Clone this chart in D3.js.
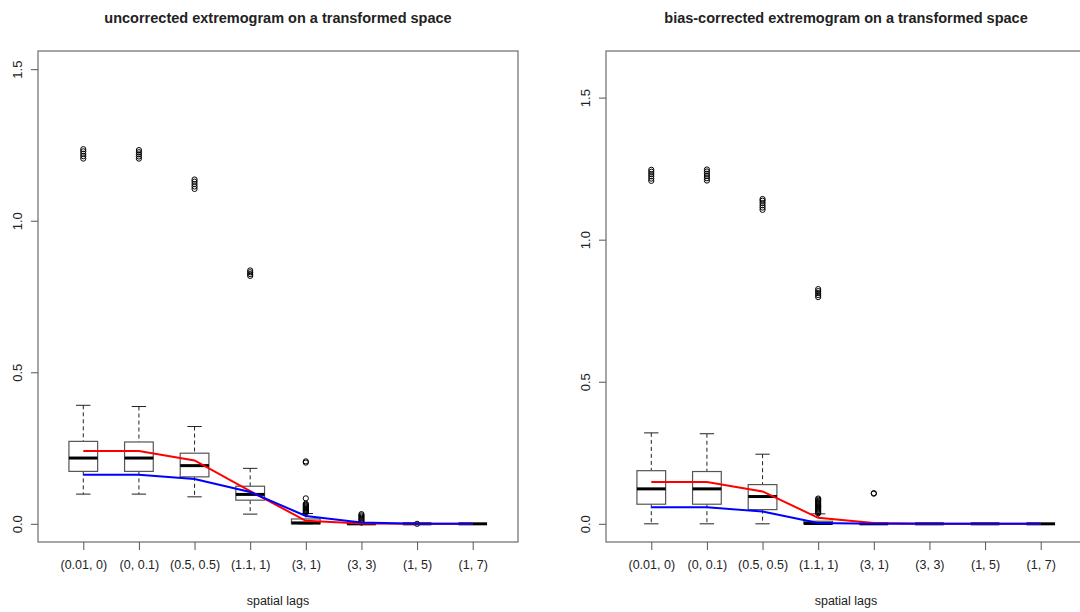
<!DOCTYPE html>
<html>
<head>
<meta charset="utf-8">
<script src="https://cdn.jsdelivr.net/npm/d3@7"></script>
<style>
  body { margin: 0; background: #fff; }
  text { font-family: "Liberation Sans", Arial, sans-serif; fill: #222; }
</style>
</head>
<body>
<svg id="chart" width="1080" height="612"></svg>
<script>
// spatial lags on the x axis
var lags = ['(0.01, 0)', '(0, 0.1)', '(0.5, 0.5)', '(1.1, 1)', '(3, 1)', '(3, 3)', '(1, 5)', '(1, 7)']

// left panel: uncorrected -- box stats [low whisker, q1, median, q3, high whisker]
var uncorrStats = [
  [0.098, 0.173, 0.217, 0.272, 0.391],
  [0.098, 0.173, 0.217, 0.270, 0.387],
  [0.089, 0.155, 0.192, 0.233, 0.321],
  [0.032, 0.078, 0.097, 0.124, 0.183],
  [0.000, 0.000, 0.003, 0.016, 0.034],
  [0.000, 0.000, 0.000, 0.001, 0.002],
  [0.000, 0.000, 0.000, 0.000, 0.000],
  [0.000, 0.000, 0.000, 0.000, 0.000]
]
var uncorrOutliers = [
  [1.205, 1.213, 1.221, 1.229, 1.236],
  [1.205, 1.212, 1.219, 1.226, 1.233],
  [1.105, 1.113, 1.121, 1.129, 1.136],
  [0.818, 0.824, 0.830, 0.836],
  [0.036, 0.039, 0.042, 0.045, 0.048, 0.051, 0.054, 0.057, 0.060, 0.063, 0.066, 0.084, 0.202, 0.206],
  [0.004, 0.008, 0.012, 0.016, 0.020, 0.024, 0.028, 0.032],
  [0.0],
  []
]
var uncorrRed = [0.240, 0.240, 0.209, 0.108, 0.010, 0.001, 0.000, 0.000]
var uncorrBlue = [0.162, 0.162, 0.148, 0.105, 0.026, 0.004, 0.000, 0.000]

// right panel: bias-corrected
var corrStats = [
  [0.000, 0.069, 0.123, 0.187, 0.320],
  [0.000, 0.069, 0.123, 0.184, 0.317],
  [0.000, 0.050, 0.096, 0.138, 0.245],
  [0.000, 0.000, 0.001, 0.009, 0.035],
  [0.000, 0.000, 0.000, 0.000, 0.000],
  [0.000, 0.000, 0.000, 0.000, 0.000],
  [0.000, 0.000, 0.000, 0.000, 0.000],
  [0.000, 0.000, 0.000, 0.000, 0.000]
]
var corrOutliers = [
  [1.207, 1.215, 1.223, 1.231, 1.239, 1.246],
  [1.208, 1.216, 1.224, 1.232, 1.240, 1.247],
  [1.105, 1.113, 1.121, 1.129, 1.137, 1.143],
  [0.798, 0.805, 0.812, 0.819, 0.826,
   0.037, 0.041, 0.045, 0.049, 0.053, 0.057, 0.061, 0.065, 0.069, 0.073, 0.077, 0.081, 0.085, 0.089],
  [0.106, 0.108],
  [],
  [],
  []
]
var corrRed = [0.147, 0.147, 0.114, 0.021, 0.003, 0.000, 0.000, 0.000]
var corrBlue = [0.058, 0.058, 0.043, 0.003, 0.000, 0.000, 0.000, 0.000]

var yTicks = [0, 0.5, 1, 1.5]

var svg = d3.select('#chart')

function panel(opt) {
  var left = opt.left, right = opt.left + 480
  var top = 51, bottom = 542
  var g = svg.append('g')

  var x = d3.scaleLinear().domain([0.186, 8.814]).range([left, right])
  var y = d3.scaleLinear().domain([-0.04 * opt.ymax, 1.04 * opt.ymax]).range([bottom, top])
  var halfW = (x(2) - x(1)) * 0.258

  // plot frame
  g.append('rect')
    .attr('x', left).attr('y', top)
    .attr('width', right - left).attr('height', bottom - top)
    .attr('fill', 'none').attr('stroke', '#777').attr('stroke-width', 1.3)

  // y axis, labels turned like R's las=0
  var yAxis = d3.axisLeft(y).tickValues(yTicks).tickSize(7)
    .tickFormat(d3.format('.1f'))
  var ya = g.append('g').attr('transform', 'translate(' + left + ',0)').call(yAxis)
  ya.select('.domain').remove()
  ya.selectAll('line').attr('stroke', '#555')
  ya.selectAll('text')
    .attr('transform', 'translate(-21,0) rotate(-90)')
    .attr('x', 0).attr('y', 0).attr('dy', '0.35em')
    .style('text-anchor', 'middle').style('font-size', '13px')

  // x axis
  var xAxis = d3.axisBottom(x).tickValues(d3.range(1, 9)).tickSize(8)
    .tickFormat(function(d) { return lags[d - 1] })
  var xa = g.append('g').attr('transform', 'translate(0,' + bottom + ')').call(xAxis)
  xa.select('.domain').remove()
  xa.selectAll('line').attr('stroke', '#555')
  xa.selectAll('text').attr('y', 27).attr('dy', '0').style('font-size', '12.5px')

  // titles
  g.append('text')
    .attr('x', (left + right) / 2).attr('y', 23)
    .attr('text-anchor', 'middle')
    .style('font-size', '14.5px').style('font-weight', 'bold')
    .text(opt.title)
  g.append('text')
    .attr('x', (left + right) / 2).attr('y', 605)
    .attr('text-anchor', 'middle')
    .style('font-size', '12.5px')
    .text('spatial lags')

  // boxes
  var boxes = g.selectAll('.box').data(opt.stats).enter().append('g').attr('class', 'box')
  boxes.append('line')
    .attr('x1', function(d, i) { return x(i + 1) }).attr('x2', function(d, i) { return x(i + 1) })
    .attr('y1', function(d) { return y(d[4]) }).attr('y2', function(d) { return y(d[3]) })
    .attr('stroke', '#222').attr('stroke-dasharray', '4,3')
  boxes.append('line')
    .attr('x1', function(d, i) { return x(i + 1) }).attr('x2', function(d, i) { return x(i + 1) })
    .attr('y1', function(d) { return y(d[1]) }).attr('y2', function(d) { return y(d[0]) })
    .attr('stroke', '#222').attr('stroke-dasharray', '4,3')
  boxes.selectAll('.cap').data(function(d, i) { return [[i, d[0]], [i, d[4]]] }).enter()
    .append('line')
    .attr('x1', function(d) { return x(d[0] + 1) - halfW / 2 })
    .attr('x2', function(d) { return x(d[0] + 1) + halfW / 2 })
    .attr('y1', function(d) { return y(d[1]) }).attr('y2', function(d) { return y(d[1]) })
    .attr('stroke', '#222')
  boxes.append('rect')
    .attr('x', function(d, i) { return x(i + 1) - halfW })
    .attr('width', halfW * 2)
    .attr('y', function(d) { return y(d[3]) })
    .attr('height', function(d) { return y(d[1]) - y(d[3]) })
    .attr('fill', '#fff').attr('stroke', '#555').attr('stroke-width', 1.2)
  boxes.append('line')
    .attr('x1', function(d, i) { return x(i + 1) - halfW })
    .attr('x2', function(d, i) { return x(i + 1) + halfW })
    .attr('y1', function(d) { return y(d[2]) }).attr('y2', function(d) { return y(d[2]) })
    .attr('stroke', '#000').attr('stroke-width', 3)

  // outliers
  var pts = []
  opt.outliers.forEach(function(list, i) {
    list.forEach(function(v) { pts.push({ i: i, v: v }) })
  })
  g.selectAll('.out').data(pts).enter().append('circle')
    .attr('cx', function(d) { return x(d.i + 1) })
    .attr('cy', function(d) { return y(d.v) })
    .attr('r', 2.6)
    .attr('fill', 'none').attr('stroke', '#000').attr('stroke-width', 1)

  // red and blue lines
  var line = d3.line().x(function(d, i) { return x(i + 1) }).y(function(d) { return y(d) })
  g.append('path').datum(opt.red).attr('d', line)
    .attr('fill', 'none').attr('stroke', '#ff0000').attr('stroke-width', 2)
  g.append('path').datum(opt.blue).attr('d', line)
    .attr('fill', 'none').attr('stroke', '#0000ff').attr('stroke-width', 2)
}

panel({ left: 38, ymax: 1.5, title: 'uncorrected extremogram on a transformed space',
  stats: uncorrStats, outliers: uncorrOutliers, red: uncorrRed, blue: uncorrBlue })
panel({ left: 606, ymax: 1.6, title: 'bias-corrected extremogram on a transformed space',
  stats: corrStats, outliers: corrOutliers, red: corrRed, blue: corrBlue })
</script>
</body>
</html>
